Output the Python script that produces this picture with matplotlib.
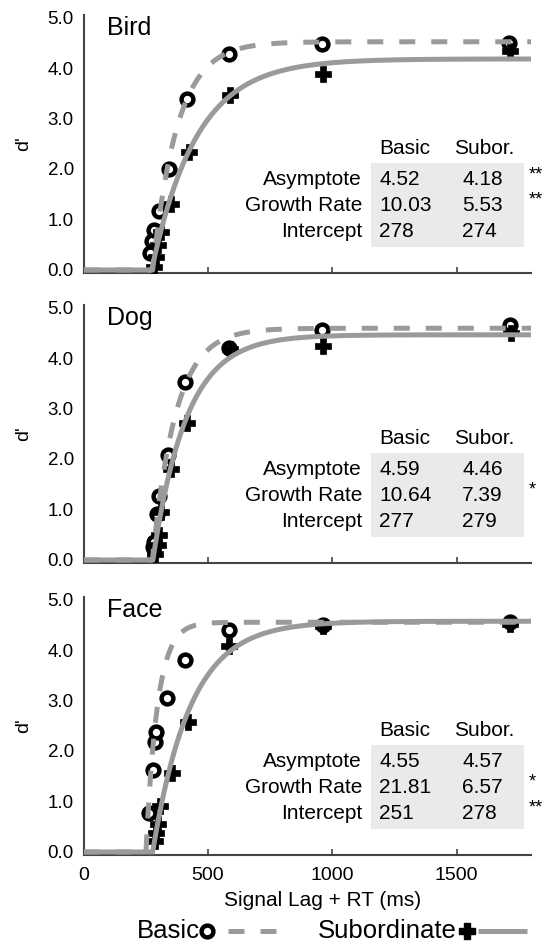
import numpy as np
import matplotlib
matplotlib.use("Agg")
from matplotlib import pyplot as plt
from matplotlib.lines import Line2D
from matplotlib.patches import Rectangle

plt.rcParams['font.family'] = ['Liberation Sans', 'DejaVu Sans']

# ---- data ----
panels = ['Bird', 'Dog', 'Face']

bird_basic_x = [268, 276, 283, 302, 345, 415, 583, 958, 1710]
bird_basic_y = [0.33, 0.57, 0.80, 1.17, 2.00, 3.38, 4.28, 4.48, 4.49]
bird_sub_x = [282, 290, 300, 312, 350, 424, 590, 962, 1715]
bird_sub_y = [0.05, 0.25, 0.50, 0.75, 1.31, 2.33, 3.47, 3.89, 4.33]

dog_basic_x = [280, 284, 296, 303, 338, 410, 585, 960, 1715]
dog_basic_y = [0.25, 0.35, 0.92, 1.27, 2.07, 3.53, 4.20, 4.55, 4.65]
dog_sub_x = [287, 298, 305, 313, 350, 418, 590, 964, 1718]
dog_sub_y = [0.12, 0.30, 0.50, 0.95, 1.80, 2.72, 4.17, 4.23, 4.50]

face_basic_x = [262, 281, 287, 290, 336, 409, 585, 962, 1715]
face_basic_y = [0.78, 1.63, 2.18, 2.38, 3.05, 3.80, 4.39, 4.49, 4.56]
face_sub_x = [287, 292, 298, 307, 354, 421, 585, 964, 1716]
face_sub_y = [0.22, 0.38, 0.55, 0.92, 1.57, 2.58, 4.08, 4.47, 4.52]

# fitted parameters: asymptote, growth rate (1/s), intercept (ms)
bird_basic_fit = [4.52, 10.03, 278]
bird_sub_fit = [4.18, 5.53, 274]
dog_basic_fit = [4.59, 10.64, 277]
dog_sub_fit = [4.46, 7.39, 279]
face_basic_fit = [4.55, 21.81, 251]
face_sub_fit = [4.57, 6.57, 278]

row_names = ['Asymptote', 'Growth Rate', 'Intercept']
bird_stars = ['**', '**', '']
dog_stars = ['', '*', '']
face_stars = ['', '*', '**']

data = [
    (bird_basic_x, bird_basic_y, bird_sub_x, bird_sub_y, bird_basic_fit, bird_sub_fit, bird_stars),
    (dog_basic_x, dog_basic_y, dog_sub_x, dog_sub_y, dog_basic_fit, dog_sub_fit, dog_stars),
    (face_basic_x, face_basic_y, face_sub_x, face_sub_y, face_basic_fit, face_sub_fit, face_stars),
]

LINE_GRAY = '#9a9a9a'
SPINE = '#444444'
DASH = (3.2, 3.2)


def sat_curve(t, asym, rate, icpt):
    # exponential approach to limit, zero before the intercept
    return np.where(t > icpt, asym * (1 - np.exp(-rate * (t - icpt) / 1000.0)), 0.0)


def fmt(v):
    return f'{v:.2f}' if isinstance(v, float) else str(v)


fig = plt.figure(figsize=(5.47, 9.44), dpi=100)

W, H = 547.0, 944.0
ax_left = 83.5 / W
ax_w = 447.8 / W
ax_h = 258 / H
tops = [15, 305, 597]

for i, name in enumerate(panels):
    bx, by, sx, sy, bfit, sfit, stars = data[i]
    ax = fig.add_axes([ax_left, 1 - (tops[i] + 258) / H, ax_w, ax_h])

    ax.plot(bx, by, 'o', ms=8.5, mfc='white', mec='black', mew=3.2, zorder=3)
    ax.plot(sx, sy, 'P', ms=11, mfc='black', mec='black', mew=0.5, zorder=3)

    t = np.sort(np.concatenate([np.linspace(0, 1800, 3000), [bfit[2], sfit[2]]]))
    ax.plot(t, sat_curve(t, *sfit), '-', color=LINE_GRAY, lw=3.6, zorder=4,
            solid_capstyle='butt')
    ax.plot(t, sat_curve(t, *bfit), '--', color=LINE_GRAY, lw=3.6, zorder=4,
            dashes=DASH)

    ax.set_xlim(0, 1800)
    ax.set_ylim(-0.06, 5.05)
    ax.set_yticks([0, 1, 2, 3, 4, 5])
    ax.set_yticklabels(['0.0', '1.0', '2.0', '3.0', '4.0', '5.0'])
    ax.set_xticks([0, 500, 1000, 1500])
    ax.tick_params(axis='y', length=0, pad=7, labelsize=13.5)
    ax.tick_params(axis='x', direction='in', length=4, width=1.2, color=SPINE,
                   pad=9, labelsize=14)
    if i < 2:
        ax.tick_params(axis='x', labelbottom=False)
    for s in ['top', 'right']:
        ax.spines[s].set_visible(False)
    for s in ['left', 'bottom']:
        ax.spines[s].set_color(SPINE)
        ax.spines[s].set_linewidth(1.5)

    ax.set_ylabel("d'", fontsize=14)
    ax.yaxis.set_label_coords(-0.115, 0.5)

    ax.text(0.052, 0.922, name, transform=ax.transAxes, fontsize=18,
            va='baseline', ha='left')

    # parameter table
    ax.add_patch(Rectangle((1154, 0.46), 618, 1.66, facecolor='#ebeaeb',
                           edgecolor='none', zorder=1))
    ax.text(1189, 2.30, 'Basic', fontsize=15, va='baseline', zorder=5)
    ax.text(1491, 2.30, 'Subor.', fontsize=15, va='baseline', zorder=5)
    rows_y = [1.68, 1.17, 0.66]
    for r in range(3):
        ax.text(1119, rows_y[r], row_names[r], fontsize=15, ha='right',
                va='baseline', zorder=5)
        ax.text(1189, rows_y[r], fmt(bfit[r]), fontsize=15, va='baseline', zorder=5)
        ax.text(1522, rows_y[r], fmt(sfit[r]), fontsize=15, va='baseline', zorder=5)
        if stars[r]:
            ax.text(1789, rows_y[r] + 0.12, stars[r], fontsize=13, va='baseline',
                    clip_on=False, zorder=5)

fig.text(323 / W, 1 - 900 / H, 'Signal Lag + RT (ms)', fontsize=15,
         ha='center', va='center')

# legend row at the bottom
base = 1 - 937.5 / H
ly = 1 - 931 / H
fig.text(200 / W, base, 'Basic', fontsize=18.5, ha='right', va='baseline')
fig.add_artist(Line2D([207 / W], [ly], marker='o', ms=8.5, mfc='white',
                      mec='black', mew=3.2, transform=fig.transFigure))
fig.add_artist(Line2D([228 / W, 278 / W], [ly, ly], color=LINE_GRAY, lw=3.6,
                      ls='--', dashes=DASH, transform=fig.transFigure))
fig.text(457 / W, base, 'Subordinate', fontsize=18.5, ha='right', va='baseline')
fig.add_artist(Line2D([467 / W], [ly], marker='P', ms=11, mfc='black',
                      mec='black', transform=fig.transFigure))
fig.add_artist(Line2D([478 / W, 527 / W], [ly, ly], color=LINE_GRAY, lw=3.6,
                      solid_capstyle='butt', transform=fig.transFigure))

fig.savefig('out.png', dpi=100, facecolor='white')
